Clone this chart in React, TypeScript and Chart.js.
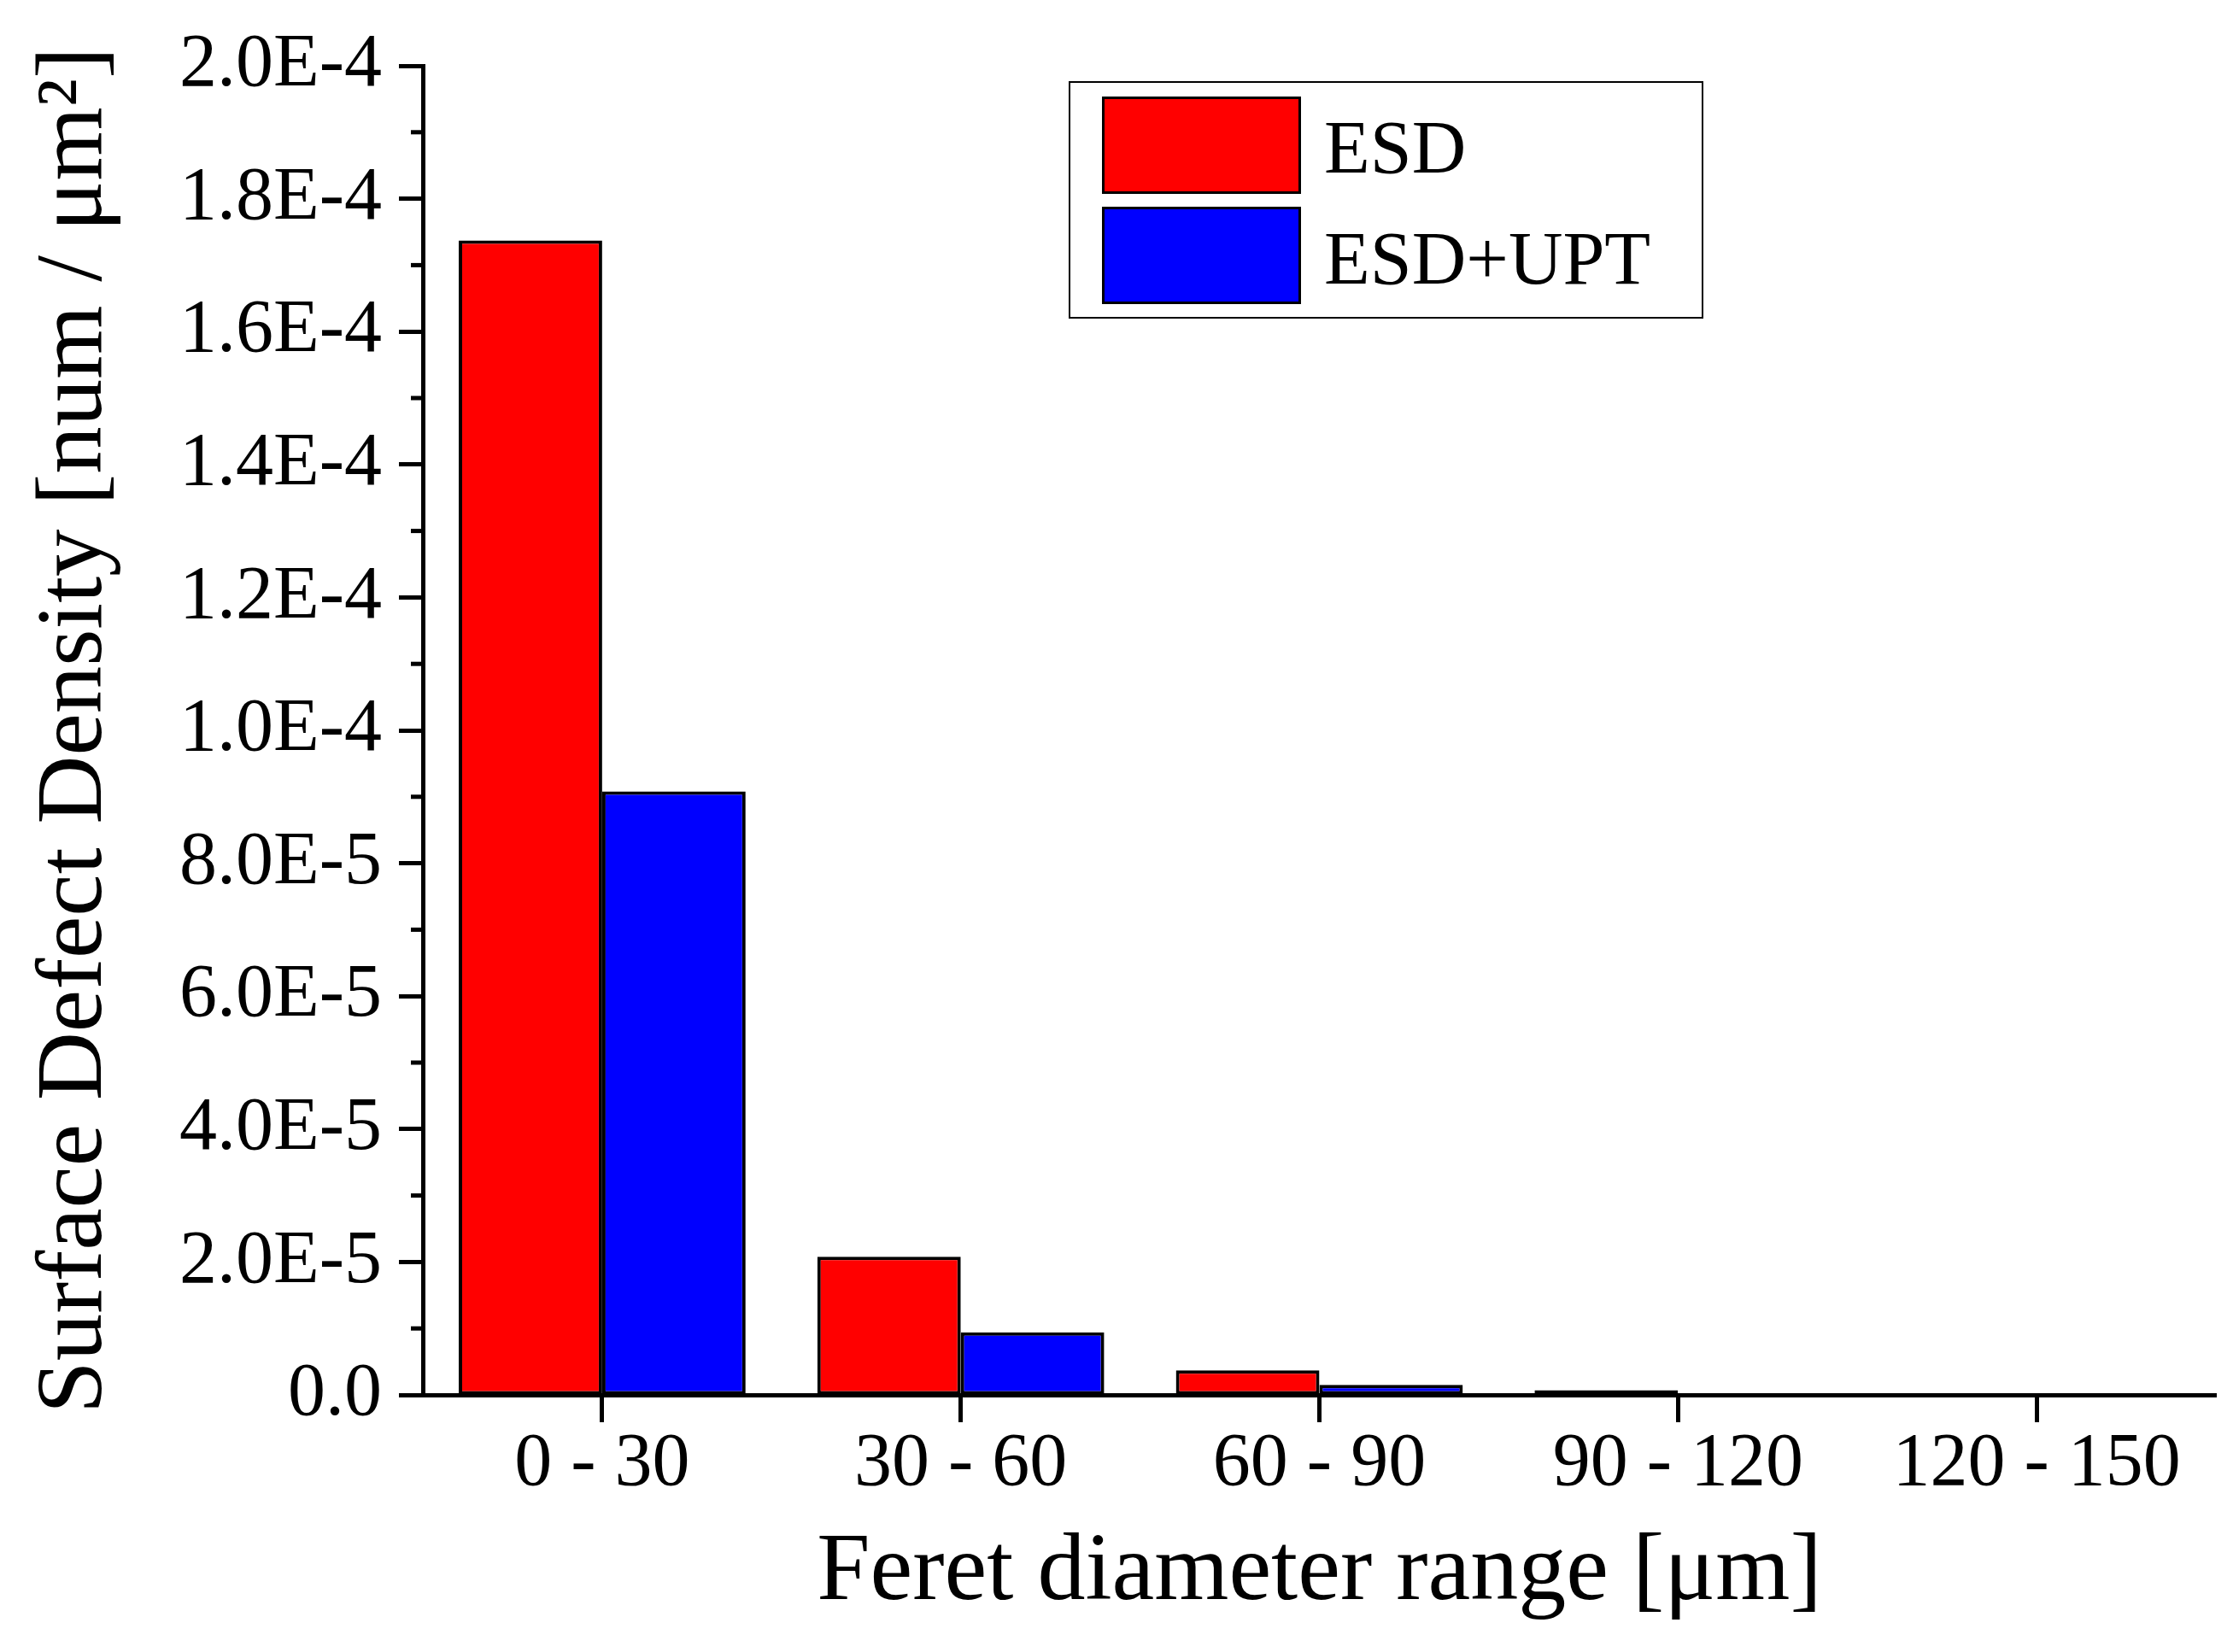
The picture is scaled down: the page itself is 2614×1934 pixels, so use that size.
import { useEffect, useRef } from 'react'
import { Chart, registerables } from 'chart.js'
import type { Plugin } from 'chart.js'

Chart.register(...registerables)

const RANGES = ['0 - 30', '30 - 60', '60 - 90', '90 - 120', '120 - 150']
const ESD = [1.737e-4, 2.08e-5, 3.7e-6, 7e-7, 0]
const ESD_UPT = [9.08e-5, 9.4e-6, 1.5e-6, 1e-7, 0]
const SERIES_LABELS = ['ESD', 'ESD+UPT']
const SERIES_COLORS = ['#ff0000', '#0000ff']
const Y_MINOR_TICKS = [1e-5, 3e-5, 5e-5, 7e-5, 9e-5, 1.1e-4, 1.3e-4, 1.5e-4, 1.7e-4, 1.9e-4]

const FONT = "'Liberation Serif', 'Times New Roman', serif"

// short minor ticks on the left axis (Chart.js has no minor ticks)
const minorTicks: Plugin<'bar'> = {
  id: 'minorTicks',
  afterDraw(chart) {
    const { ctx, chartArea, scales } = chart
    const y = scales.y
    ctx.save()
    ctx.strokeStyle = '#000'
    ctx.lineWidth = 5
    Y_MINOR_TICKS.forEach(v => {
      const py = y.getPixelForValue(v)
      ctx.beginPath()
      ctx.moveTo(chartArea.left - 14, py)
      ctx.lineTo(chartArea.left, py)
      ctx.stroke()
    })
    ctx.restore()
  },
}

function fmtTick(v: number) {
  if (Math.abs(v) < 1e-12) return '0.0'
  return v.toExponential(1).toUpperCase()
}

export default function App() {
  const canvasRef = useRef<HTMLCanvasElement>(null)
  const chartRef = useRef<Chart | null>(null)

  useEffect(() => {
    document.body.style.margin = '0'
    if (!canvasRef.current) return
    if (chartRef.current) chartRef.current.destroy()

    chartRef.current = new Chart(canvasRef.current, {
      type: 'bar',
      data: {
        labels: RANGES,
        datasets: [ESD, ESD_UPT].map((d, i) => ({
          label: SERIES_LABELS[i],
          data: d,
          backgroundColor: SERIES_COLORS[i],
          borderColor: '#000',
          borderWidth: 4,
          borderSkipped: false,
          categoryPercentage: 0.8,
          barPercentage: 1.0,
        })),
      },
      options: {
        responsive: false,
        animation: false,
        layout: { padding: { top: 77, right: 20, bottom: 0, left: 0 } },
        plugins: {
          legend: { display: false },
          tooltip: { enabled: false },
        },
        scales: {
          x: {
            z: 1,
            offset: true,
            grid: {
              display: true,
              drawOnChartArea: false,
              offset: false,
              tickLength: 32,
              tickWidth: 5,
              tickColor: '#000',
            },
            border: { display: true, color: '#000', width: 5 },
            ticks: {
              color: '#000',
              padding: 6,
              font: { family: FONT, size: 88, lineHeight: 1 },
              maxRotation: 0,
            },
            title: {
              display: true,
              text: 'Feret diameter range [μm]',
              color: '#000',
              font: { family: FONT, size: 112 },
              padding: { top: 0, bottom: 24 },
            },
            afterFit: (s) => { s.height = 301 },
          },
          y: {
            z: 1,
            min: 0,
            max: 2e-4,
            grid: {
              display: true,
              drawOnChartArea: false,
              tickLength: 28,
              tickWidth: 5,
              tickColor: '#000',
            },
            border: { display: true, color: '#000', width: 5 },
            ticks: {
              stepSize: 2e-5,
              color: '#000',
              padding: 20,
              font: { family: FONT, size: 88, lineHeight: 1 },
              callback: (v) => fmtTick(Number(v)),
            },
            title: {
              display: true,
              text: 'Surface Defect Density [num / μm²]',
              color: '#000',
              font: { family: FONT, size: 111 },
              padding: { top: 22, bottom: 0 },
            },
            afterFit: (s) => { s.width = 495 },
          },
        },
      },
      plugins: [minorTicks],
    })

    return () => { chartRef.current?.destroy() }
  }, [])

  const legendText = { position: 'absolute' as const, left: 297, fontFamily: FONT, fontSize: 88, lineHeight: 1, color: '#000', whiteSpace: 'nowrap' as const }
  const swatch = { position: 'absolute' as const, left: 37, width: 233, height: 114, boxSizing: 'border-box' as const, border: '3px solid #000' }

  return (
    <div style={{ position: 'relative', width: 2614, height: 1934, background: '#fff' }}>
      <canvas ref={canvasRef} width={2614} height={1934} style={{ display: 'block' }} />
      <div style={{ position: 'absolute', left: 1251, top: 95, width: 743, height: 278, boxSizing: 'border-box', border: '2px solid #000', background: '#fff' }}>
        {SERIES_LABELS.map((lbl, i) => (
          <div key={lbl}>
            <div style={{ ...swatch, top: i === 0 ? 16 : 145, background: SERIES_COLORS[i] }} />
            <div style={{ ...legendText, top: i === 0 ? 32 : 162 }}>{lbl}</div>
          </div>
        ))}
      </div>
    </div>
  )
}
